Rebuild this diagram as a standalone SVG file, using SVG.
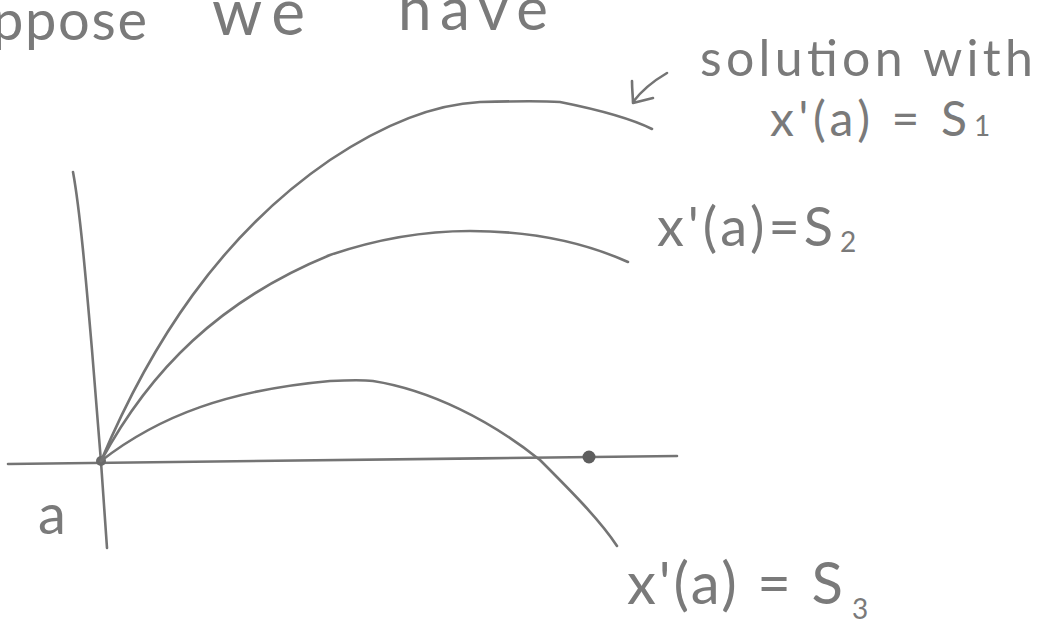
<svg xmlns="http://www.w3.org/2000/svg" width="1045" height="635" viewBox="0 0 1045 635">
<style>
.ink{fill:none;stroke:#747474;stroke-width:2.6;stroke-linecap:round;stroke-linejoin:round}
.t{font-family:Lato,"Open Sans","Liberation Sans",sans-serif;font-weight:400;fill:#7a7a7a}
</style>
<rect width="1045" height="635" fill="#ffffff"/>
<g id="heading">
<text class="t" x="-8" y="40" font-size="56" textLength="155" lengthAdjust="spacing">ppose</text>
<text class="t" x="212" y="35" font-size="64" textLength="93" lengthAdjust="spacing">we</text>
<text class="t" x="398" y="30" font-size="60" textLength="150" lengthAdjust="spacing">have</text>
</g>
<g id="axes">
<path class="ink" d="M73,172 C80,210 86,280 92,350 C96,400 99,440 101,462 C103,490 105,520 107,548"/>
<path class="ink" d="M8,464 C200,461 450,459 677,456"/>
<circle cx="101" cy="461" r="5" fill="#6a6a6a"/>
<circle cx="589" cy="457" r="6.5" fill="#5e5e5e"/>
<text class="t" x="38" y="534" font-size="56">a</text>
</g>
<g id="connectors">
<path id="curve1" class="ink" d="M101,461 C150,345 220,235 330,160 C390,120 440,104 480,102 C520,101 545,101 560,102 C600,110 630,118 652,129"/>
<path id="curve2" class="ink" d="M101,461 C150,370 220,300 330,255 C380,238 430,231 470,231 C540,231 590,245 628,262"/>
<path id="curve3" class="ink" d="M101,461 C160,415 230,390 330,381 C350,380 365,380 373,381 C430,390 490,420 540,460 C570,490 600,520 617,546"/>
<path id="arrow" class="ink" d="M667,73 C655,80 642,90 633,102 M632,81 C632,90 633,97 633,103 L653,98"/>
</g>
<g id="label-s1">
<text class="t" x="700" y="76" font-size="50" textLength="333" lengthAdjust="spacing">solution with</text>
<text class="t" x="770" y="136" font-size="48" textLength="197" lengthAdjust="spacing">x'(a) = S</text>
<text class="t" x="974" y="136" font-size="28">1</text>
</g>
<g id="label-s2">
<text class="t" x="657" y="246" font-size="54" textLength="176" lengthAdjust="spacing">x'(a)=S</text>
<text class="t" x="840" y="252" font-size="28">2</text>
</g>
<g id="label-s3">
<text class="t" x="627" y="604" font-size="58" textLength="216" lengthAdjust="spacing">x'(a) = S</text>
<text class="t" x="852" y="619" font-size="28">3</text>
</g>
</svg>
